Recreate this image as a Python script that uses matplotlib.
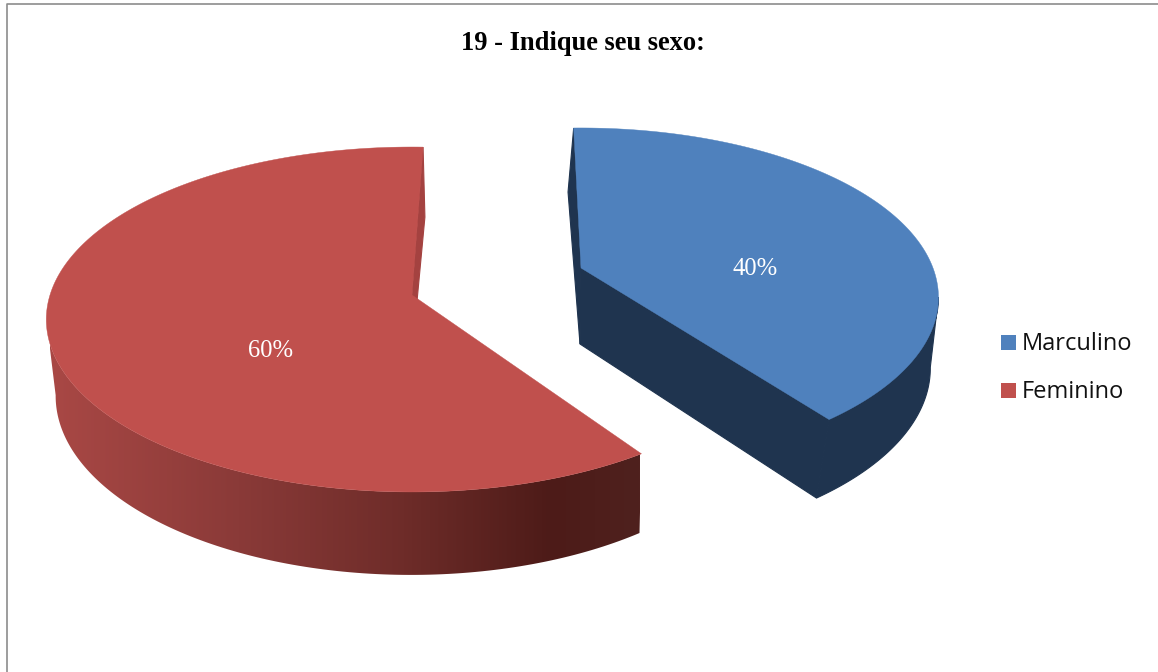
import matplotlib

matplotlib.use("Agg")
import matplotlib.pyplot as plt
import numpy as np
from matplotlib.colors import LinearSegmentedColormap
from matplotlib.patches import Polygon, Rectangle

WIDTH, HEIGHT = 1158, 672

title = "19 - Indique seu sexo:"
categories = ["Marculino", "Feminino"]
shares = [40, 60]
pct_labels = ["40%", "60%"]

face_colors = ["#4F81BD", "#C0504D"]
inner_colors = ["#1F344F", "#A44240"]

# slice start angle (clockwise from the back) and the two perspective discs
# disc = apex x, apex y, half width, half height, perspective
starts = [-1.4, 146.0]
top_discs = [(581, 268, 352, 164.4, 0.174), (412, 295, 362, 169, 0.142)]
bottom_discs = [(580, 344, 347, 172.8, 0.137), (411, 365, 350, 173.6, 0.173)]
# which cut edges of each slice face the viewer, and the sideways lean of the back one
visible_cuts = [(0, -1), (-1,)]
back_lean = [-4.5, 3.5]
back_cut = [0, -1]
label_pos = [(755, 269), (271, 351)]
legend_y = [342.5, 390.5]

red_wall = LinearSegmentedColormap.from_list(
    "red_wall",
    [(0.0, "#A94845"), (0.32, "#8A3A38"), (0.6, "#6E2C29"), (0.85, "#4D1B18"), (1.0, "#4F211E")],
)


def project(disc, theta):
    x0, y0, a, b, k = disc
    t = np.radians(theta)
    u, v = np.sin(t), np.cos(t)
    d = 1 + k * v
    return x0 + a * u / d, y0 - b * v / d


def wall_outline(tx, ty, bx, by, i):
    # blue wall runs from the right silhouette to the tip, red from the tip to the left one
    if i == 0:
        s, e = np.argmax(tx), np.argmax(bx)
        xs = np.r_[tx[s:], bx[e:][::-1]]
        ys = np.r_[ty[s:], by[e:][::-1]]
    else:
        s, e = np.argmin(tx), np.argmin(bx)
        xs = np.r_[tx[:s + 1], bx[:e + 1][::-1]]
        ys = np.r_[ty[:s + 1], by[:e + 1][::-1]]
    return np.column_stack([xs, ys])


def draw_slice(ax, i):
    top, bottom = top_discs[i], bottom_discs[i]
    sweep = shares[i] / sum(shares) * 360
    thetas = np.linspace(starts[i], starts[i] + sweep, 241)
    tx, ty = project(top, thetas)
    bx, by = project(bottom, thetas)

    # outer wall, the red one carries a horizontal gradient
    wall_xy = wall_outline(tx, ty, bx, by, i)
    if i == 0:
        ax.add_patch(Polygon(wall_xy, fc=inner_colors[0], ec=inner_colors[0], lw=0.8, zorder=3))
    else:
        clip = Polygon(wall_xy, fc="none", ec="none", transform=ax.transData)
        ax.add_patch(clip)
        grad = np.linspace(0, 1, 256).reshape(1, -1)
        img = ax.imshow(grad, cmap=red_wall, extent=(50, 640, HEIGHT, 0), aspect="auto", zorder=3)
        img.set_clip_path(clip)

    # flat walls along the cut edges
    for j in visible_cuts[i]:
        lean = back_lean[i] if j == back_cut[i] else 0
        wall = [(top[0], top[1]), (tx[j], ty[j]), (bx[j] + lean, by[j]), (bottom[0], bottom[1])]
        ax.add_patch(Polygon(wall, fc=inner_colors[i], ec=inner_colors[i], lw=0.8, zorder=3.5))

    outline = np.column_stack([np.r_[top[0], tx], np.r_[top[1], ty]])
    ax.add_patch(Polygon(outline, fc=face_colors[i], ec=face_colors[i], lw=0.3, zorder=4))


fig = plt.figure(figsize=(WIDTH / 100, HEIGHT / 100), dpi=100)
ax = fig.add_axes([0, 0, 1, 1])

# chart frame, only the top and left edges show
ax.plot([6.5, 6.5, WIDTH], [HEIGHT, 3.5, 3.5], color="#8C8C8C", lw=1.2, zorder=1)

for i in range(len(shares)):
    draw_slice(ax, i)
    ax.text(*label_pos[i], pct_labels[i], color="white", family="Liberation Serif",
            fontsize=17.7, ha="center", va="center", zorder=5)

ax.text(583, 43, title, family="Liberation Serif", weight="bold", fontsize=19.1,
        ha="center", va="center", color="black")

for name, color, y in zip(categories, face_colors, legend_y):
    ax.add_patch(Rectangle((1001, y - 7.5), 15, 15, fc=color, ec="none"))
    ax.text(1022, y + 1.5, name, family="Open Sans", fontsize=17, ha="left", va="center", color="#111111")

ax.set_xlim(0, WIDTH)
ax.set_ylim(HEIGHT, 0)
ax.axis("off")

fig.savefig("out.png", dpi=100)
